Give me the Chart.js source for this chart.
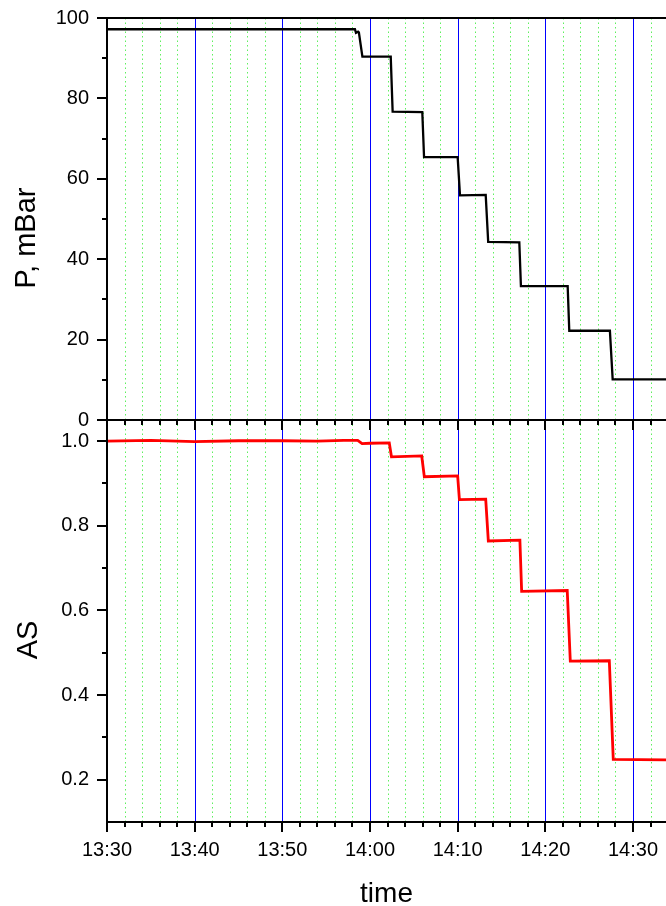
<!DOCTYPE html>
<html>
<head>
<meta charset="utf-8">
<script src="https://cdn.jsdelivr.net/npm/chart.js@4.4.1/dist/chart.umd.min.js"></script>
<style>
  html, body { margin: 0; padding: 0; background: #fff; overflow: hidden; }
  #wrap { position: relative; width: 666px; height: 906px; }
  #wrap canvas { position: absolute; left: 0; top: 0; }
</style>
</head>
<body>
<div id="wrap">
  <canvas id="asChart" width="666" height="906"></canvas>
  <canvas id="pChart" width="666" height="906"></canvas>
</div>
<script>
// Pressure steps and the AS signal recorded over the same run.
const pTime = ['13:30:00', '13:58:17', '13:58:24', '13:58:38', '13:58:44', '13:59:08',
  '14:02:22', '14:02:35', '14:05:58', '14:06:10', '14:10:00', '14:10:16',
  '14:13:12', '14:13:29', '14:17:02', '14:17:13', '14:22:33', '14:22:44',
  '14:27:22', '14:27:41', '14:33:46'];
const pValues = [97.2, 97.2, 96.3, 96.6, 96.4, 90.4,
  90.4, 76.7, 76.6, 65.4, 65.4, 55.9,
  56.0, 44.3, 44.2, 33.3, 33.3, 22.2,
  22.2, 10.1, 10.1];

const asTime = ['13:30:00', '13:35:00', '13:40:00', '13:45:00', '13:50:00', '13:54:00',
  '13:57:00', '13:58:36', '13:59:06', '14:00:00', '14:02:12', '14:02:27',
  '14:05:54', '14:06:12', '14:10:00', '14:10:12', '14:13:12', '14:13:30',
  '14:17:06', '14:17:18', '14:22:30', '14:22:51', '14:27:18', '14:27:45', '14:33:46'];
const asValues = [1.000, 1.002, 0.999, 1.001, 1.001, 1.000,
  1.002, 1.002, 0.994, 0.995, 0.996, 0.963,
  0.965, 0.916, 0.918, 0.862, 0.863, 0.764,
  0.766, 0.645, 0.647, 0.480, 0.481, 0.248, 0.247];

const timeTicks = ['13:30', '13:40', '13:50', '14:00', '14:10', '14:20', '14:30'];
const pTicks = [0, 20, 40, 60, 80, 100];
const asTicks = [0.2, 0.4, 0.6, 0.8, 1.0];

const timeStart = '13:30:00';
const timeEnd = '14:33:46';
const minorMinutes = 2;

const FONT = "'Liberation Sans', Arial, sans-serif";
Chart.defaults.font.family = FONT;
Chart.defaults.color = '#000';

function clockToMin(s) {
  const [h, m, sec] = s.split(':').map(Number);
  return h * 60 + m + (sec || 0) / 60;
}
const t0 = clockToMin(timeStart);
const toMin = s => clockToMin(s) - t0;
const majorMin = timeTicks.map(toMin);

function minToClock(v) {
  const total = Math.round(v + t0);
  const h = Math.floor(total / 60), m = total % 60;
  return h + ':' + String(m).padStart(2, '0');
}

// Frame, minute grid, tick marks and rotated axis title of one panel.
const panelFrame = {
  id: 'panelFrame',
  beforeDatasetsDraw(chart, args, o) {
    const { ctx, chartArea: a, scales: { x } } = chart;
    ctx.save();
    ctx.lineWidth = 1;
    for (let t = minorMinutes; t <= x.max; t += minorMinutes) {
      const isMajor = majorMin.some(m => Math.abs(m - t) < 1e-6);
      const px = Math.round(x.getPixelForValue(t)) + 0.5;
      if (isMajor) {
        ctx.strokeStyle = '#0000ff';
        ctx.setLineDash([]);
      } else {
        ctx.strokeStyle = '#5ef05e';
        ctx.setLineDash([1.5, 3]);
      }
      ctx.beginPath();
      ctx.moveTo(px, a.top);
      ctx.lineTo(px, a.bottom);
      ctx.stroke();
    }
    ctx.restore();
  },
  afterDraw(chart, args, o) {
    const { ctx, chartArea: a, scales: { x, y } } = chart;
    ctx.save();
    ctx.strokeStyle = '#000';
    ctx.lineWidth = 2;
    ctx.setLineDash([]);
    // axis lines
    ctx.beginPath();
    ctx.moveTo(a.left, a.bottom); ctx.lineTo(a.right, a.bottom);
    ctx.moveTo(a.left, a.top); ctx.lineTo(a.left, a.bottom);
    if (o.topLine) { ctx.moveTo(a.left - 1, a.top); ctx.lineTo(a.right, a.top); }
    ctx.stroke();
    // time ticks
    ctx.beginPath();
    for (let t = 0; t <= x.max; t += minorMinutes) {
      const isMajor = majorMin.some(m => Math.abs(m - t) < 1e-6);
      const px = Math.round(x.getPixelForValue(t));
      ctx.moveTo(px, a.bottom);
      ctx.lineTo(px, a.bottom + (isMajor ? 10 : 5));
    }
    // value ticks: labelled ones long, midpoints short
    const yt = o.yTicks;
    yt.forEach((v, i) => {
      const py = Math.round(y.getPixelForValue(v));
      ctx.moveTo(a.left, py); ctx.lineTo(a.left - 10, py);
      if (i < yt.length - 1) {
        const pm = Math.round(y.getPixelForValue((v + yt[i + 1]) / 2));
        ctx.moveTo(a.left, pm); ctx.lineTo(a.left - 5, pm);
      }
    });
    ctx.stroke();
    // axis title
    ctx.fillStyle = '#000';
    ctx.font = '29px ' + FONT;
    ctx.textAlign = 'center';
    ctx.textBaseline = 'alphabetic';
    ctx.translate(o.titleX, (a.top + a.bottom) / 2 + o.titleShift);
    ctx.rotate(-Math.PI / 2);
    ctx.fillText(o.title, 0, 0);
    ctx.restore();
  }
};

function makePanel(id, cfg) {
  const data = cfg.time.map((t, i) => ({ x: toMin(t), y: cfg.values[i] }));
  return new Chart(document.getElementById(id), {
    type: 'line',
    data: {
      datasets: [{
        data,
        borderColor: cfg.color,
        borderWidth: cfg.lineWidth,
        pointRadius: 0,
        tension: 0,
        fill: false
      }]
    },
    options: {
      responsive: false,
      animation: false,
      events: [],
      layout: { padding: cfg.padding, autoPadding: false },
      plugins: {
        legend: { display: false },
        tooltip: { enabled: false },
        panelFrame: {
          yTicks: cfg.yTicks,
          title: cfg.title,
          titleX: cfg.titleX,
          titleShift: 19,
          topLine: cfg.topLine
        }
      },
      scales: {
        x: {
          type: 'linear',
          min: 0,
          max: toMin(timeEnd),
          display: cfg.showTime,
          grid: { display: false, drawTicks: false },
          border: { display: false },
          afterBuildTicks: s => { s.ticks = majorMin.map(v => ({ value: v })); },
          afterFit: s => {
            s.height = cfg.showTime ? 84 : 0;
            s.paddingLeft = 0; s.paddingRight = 0;
          },
          ticks: {
            autoSkip: false,
            maxRotation: 0,
            padding: 16,
            font: { size: 20 },
            color: '#000',
            callback: v => minToClock(v)
          },
          title: {
            display: true,
            text: 'time',
            color: '#000',
            font: { size: 28, lineHeight: 0.85 },
            padding: { top: 0, bottom: 0 }
          }
        },
        y: {
          type: 'linear',
          min: cfg.yMin,
          max: cfg.yMax,
          grid: { display: false, drawTicks: false },
          border: { display: false },
          afterBuildTicks: s => { s.ticks = cfg.yTicks.map(v => ({ value: v })); },
          afterFit: s => {
            s.width = 107;
            s.paddingTop = 0; s.paddingBottom = 0;
          },
          ticks: {
            padding: 18,
            font: { size: 20 },
            color: '#000',
            callback: cfg.fmt
          }
        }
      }
    },
    plugins: [panelFrame]
  });
}

makePanel('asChart', {
  time: asTime, values: asValues, color: '#ff0000', lineWidth: 2.8,
  yMin: 0.1, yMax: 1.05, yTicks: asTicks, fmt: v => v.toFixed(1),
  padding: { top: 420, bottom: 0, left: 0, right: 0 },
  showTime: true, title: 'AS', titleX: 37, topLine: false
});

makePanel('pChart', {
  time: pTime, values: pValues, color: '#000000', lineWidth: 2.3,
  yMin: 0, yMax: 100, yTicks: pTicks, fmt: v => String(v),
  padding: { top: 18, bottom: 486, left: 0, right: 0 },
  showTime: false, title: 'P, mBar', titleX: 35, topLine: true
});
</script>
</body>
</html>
